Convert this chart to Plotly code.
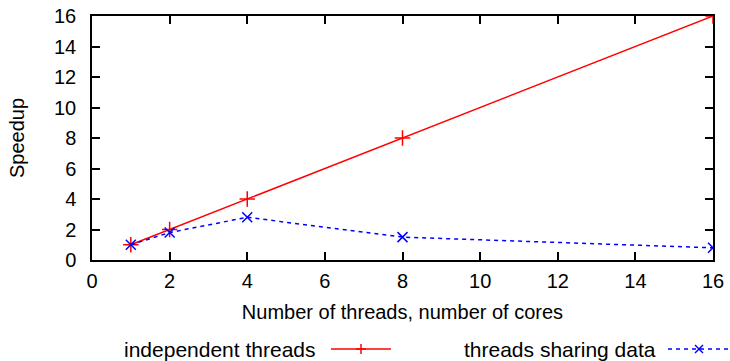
import plotly.graph_objects as go

threads = [1, 2, 4, 8, 16]
independent = [1, 2, 4, 8, 16]
sharing = [1, 1.8, 2.8, 1.5, 0.8]
names = ["independent threads", "threads sharing data"]
tick_vals = list(range(0, 17, 2))

FONT = "Liberation Sans, Arial, sans-serif"
FS = 20
RED = "#ff0000"
BLUE = "#0000ff"

W, H = 730, 361
L, R, T, B = 92, 17, 16, 101
PW, PH = W - L - R, H - T - B


def px(x):
    return (x - L) / PW


def py(y):
    return (H - B - y) / PH


fig = go.Figure()
fig.add_trace(go.Scatter(x=threads, y=independent, mode="lines+markers", name=names[0],
                         line=dict(color=RED, width=1.5),
                         marker=dict(symbol="cross-thin", size=11, line=dict(color=RED, width=1.5)),
                         showlegend=False))
fig.add_trace(go.Scatter(x=threads, y=sharing, mode="lines+markers", name=names[1],
                         line=dict(color=BLUE, width=1.5, dash="4px,4px"),
                         marker=dict(symbol="x-thin", size=10, line=dict(color=BLUE, width=1.5)),
                         showlegend=False))

axis_common = dict(showgrid=False, zeroline=False, showline=True, linecolor="black", linewidth=1.5,
                   mirror="ticks", ticks="inside", ticklen=8, tickwidth=1.5, tickcolor="black",
                   tickfont=dict(family=FONT, size=FS, color="black"), tickvals=tick_vals)
fig.update_xaxes(range=[0, 16], title=dict(text="Number of threads, number of cores",
                 font=dict(family=FONT, size=FS, color="black"), standoff=14),
                 ticklabelstandoff=2, **axis_common)
fig.update_yaxes(range=[0, 16], title=dict(text="Speedup",
                 font=dict(family=FONT, size=FS, color="black"), standoff=24),
                 ticklabelstandoff=10, **axis_common)

# custom legend (gnuplot style: label then sample)
shapes = []
annotations = []
legend_items = [
    (names[0], 318, 331, 391, 361, RED, "solid", "plus"),
    (names[1], 658, 668, 728, 699, BLUE, "dot", "x"),
]
ly = 349
for text, tx, x0, x1, mx, col, dash, sym in legend_items:
    annotations.append(dict(xref="paper", yref="paper", x=px(tx), y=py(ly), text=text,
                            showarrow=False, xanchor="right", yanchor="middle",
                            font=dict(family=FONT, size=FS + 1, color="black")))
    shapes.append(dict(type="line", xref="paper", yref="paper", x0=px(x0), x1=px(x1),
                       y0=py(ly), y1=py(ly),
                       line=dict(color=col, width=1.5, dash="solid" if dash == "solid" else "4px,4px")))
    s = 5
    if sym == "plus":
        shapes.append(dict(type="line", xref="paper", yref="paper", x0=px(mx - s), x1=px(mx + s),
                           y0=py(ly), y1=py(ly), line=dict(color=col, width=1.5)))
        shapes.append(dict(type="line", xref="paper", yref="paper", x0=px(mx), x1=px(mx),
                           y0=py(ly - s), y1=py(ly + s), line=dict(color=col, width=1.5)))
    else:
        s = 4
        shapes.append(dict(type="line", xref="paper", yref="paper", x0=px(mx - s), x1=px(mx + s),
                           y0=py(ly - s), y1=py(ly + s), line=dict(color=col, width=1.5)))
        shapes.append(dict(type="line", xref="paper", yref="paper", x0=px(mx - s), x1=px(mx + s),
                           y0=py(ly + s), y1=py(ly - s), line=dict(color=col, width=1.5)))

fig.update_layout(width=W, height=H, margin=dict(l=L, r=R, t=T, b=B, autoexpand=False),
                  paper_bgcolor="white", plot_bgcolor="white", showlegend=False,
                  shapes=shapes, annotations=annotations)
fig.write_html("out.html", config={"displayModeBar": False},
               post_script="document.body.style.margin='0';document.body.style.overflow='hidden';")
